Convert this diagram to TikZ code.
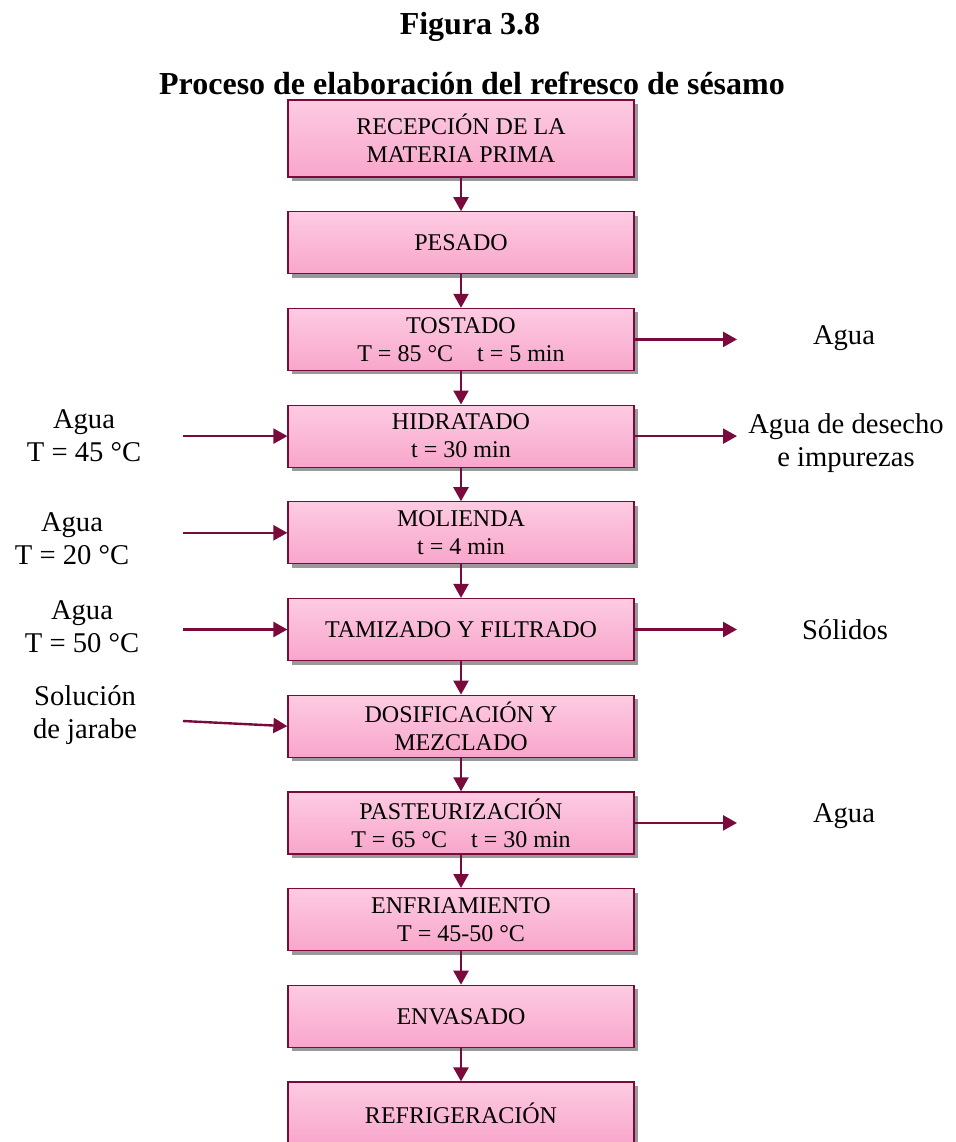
\documentclass[tikz,border=0pt]{standalone}
\usepackage{fontspec}
\setmainfont{Liberation Serif}
\usetikzlibrary{positioning,arrows.meta,shadows}
\definecolor{vino}{HTML}{7A0A3C}
\definecolor{rosaA}{HTML}{FDCBE2}
\definecolor{rosaB}{HTML}{F8A6CB}

\begin{document}
\begin{tikzpicture}[x=0.5pt, y=-0.5pt,
      node distance=16.75pt,
      box/.style={draw=vino, semithick, top color=rosaA, bottom color=rosaB,
                  minimum width=173pt, minimum height=31pt, align=center,
                  inner xsep=2pt, inner ysep=0pt,
                  font=\fontsize{12}{14}\selectfont,
                  drop shadow={shadow xshift=2pt, shadow yshift=-2pt, fill=black!40, opacity=1}},
      lbl/.style={align=center, font=\fontsize{14.3}{16.5}\selectfont},
      ttl/.style={font=\bfseries\fontsize{16}{19}\selectfont},
      arr/.style={-{Triangle[length=7pt,width=7.5pt]}, draw=vino, line width=1.2pt}
    ]
    \useasboundingbox (0,0) rectangle (956,1142);
    \node[ttl] (fig) at (470,27) {Figura 3.8};
    \node[ttl] (tit) at (472,83) {Proceso de elaboración del refresco de sésamo};
    % main line
    \node[box, minimum height=38.5pt] (recep) at (461,138.5) {RECEPCIÓN DE LA\\MATERIA PRIMA};
    \node[box, below=of recep]   (pesado)  {PESADO};
    \node[box, below=of pesado]  (tostado) {TOSTADO\\T = 85 °C\quad t = 5 min};
    \node[box, below=of tostado] (hidrat)  {HIDRATADO\\t = 30 min};
    \node[box, below=of hidrat]  (molien)  {MOLIENDA\\t = 4 min};
    \node[box, below=of molien]  (tamiz)   {TAMIZADO Y FILTRADO};
    \node[box, below=of tamiz]   (dosif)   {DOSIFICACIÓN Y\\MEZCLADO};
    \node[box, below=of dosif]   (pasteur) {PASTEURIZACIÓN\\T = 65 °C\quad t = 30 min};
    \node[box, below=of pasteur] (enfria)  {ENFRIAMIENTO\\T = 45-50 °C};
    \node[box, below=of enfria]  (envas)   {ENVASADO};
    \node[box, below=of envas]   (refrig)  {REFRIGERACIÓN};
    % inputs and outputs
    \node[lbl] (aguaT)  at (844,338) {Agua};
    \node[lbl] (desech) at (846,443) {Agua de desecho\\e impurezas};
    \node[lbl] (solid)  at (845,630) {Sólidos};
    \node[lbl] (aguaP)  at (844,816) {Agua};
    \node[lbl] (agua45) at (84,436)  {Agua\\T = 45 °C};
    \node[lbl] (agua20) at (72,539)  {Agua\\T = 20 °C};
    \node[lbl] (agua50) at (82,627)  {Agua\\T = 50 °C};
    \node[lbl] (jarabe) at (85,715)  {Solución\\de jarabe};
    \coordinate (outx) at (737,0);
    \coordinate (inx) at (183,0);
    \coordinate (i4) at (183,721);
    \foreach \a/\b in {recep/pesado, pesado/tostado, tostado/hidrat, hidrat/molien,
                       molien/tamiz, tamiz/dosif, dosif/pasteur, pasteur/enfria,
                       enfria/envas, envas/refrig}
      \draw[arr] (\a) -- (\b);
    \foreach \a in {tostado, hidrat, tamiz, pasteur}
      \draw[arr] (\a.east) -- (\a.east -| outx);
    \foreach \a in {hidrat, molien, tamiz}
      \draw[arr] (\a.west -| inx) -- (\a.west);
    \draw[arr] (i4) -- (dosif.west);
  \end{tikzpicture}
\end{document}
